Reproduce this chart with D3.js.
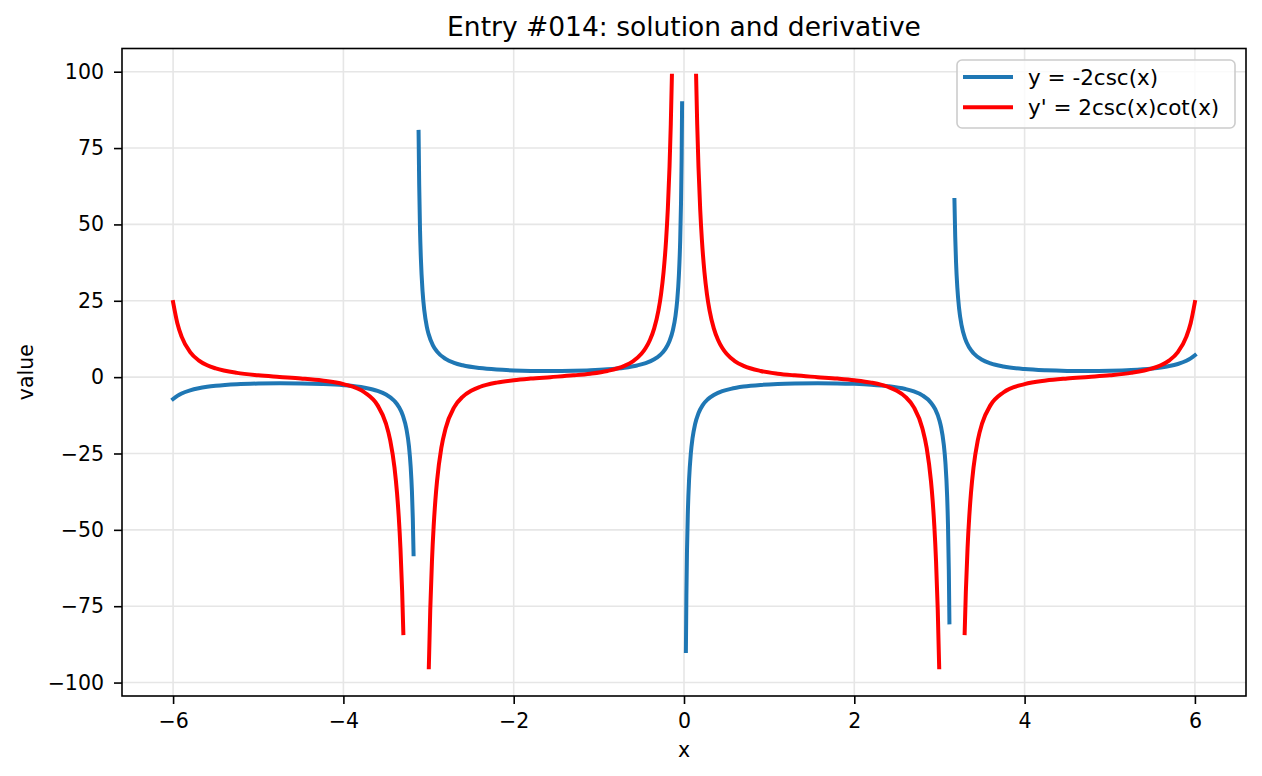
<html>
    <head>
        <meta charset="utf-8">
        <script src="https://d3js.org/d3.v7.min.js"></script>
        <style>
            body { margin: 0; background: #fff; }
            text { font-family: 'DejaVu Sans', sans-serif; fill: #000; }
        </style>
    </head>
    <body>
        <svg id="chart" width="1262" height="776"></svg>
        <script>
            // values, one array per visible piece of each curve
            const xTicks = [-6, -4, -2, 0, 2, 4, 6];
            const yTicks = [-100, -75, -50, -25, 0, 25, 50, 75, 100];

            const blue1 = [[-6, -7.16], [-5.95, -6.12], [-5.9, -5.35], [-5.8, -4.31], [-5.7, -3.63], [-5.6, -3.17], [-5.5, -2.84], [-5.25, -2.33], [-5, -2.09], [-4.75, -2.00], [-4.5, -2.05], [-4.25, -2.24], [-4, -2.64], [-3.75, -3.50], [-3.6, -4.52], [-3.5, -5.70], [-3.4, -7.83], [-3.35, -9.67], [-3.3, -12.68], [-3.26, -16.93], [-3.23, -22.65], [-3.21, -29.28], [-3.195, -37.45], [-3.185, -46.1], [-3.176, -58]];
            const blue2 = [[-3.117, 80.3], [-3.11, 63.3], [-3.1, 48.1], [-3.09, 38.8], [-3.07, 27.96], [-3.05, 21.87], [-3.02, 16.49], [-3.0, 14.17], [-2.95, 10.50], [-2.9, 8.36], [-2.8, 5.97], [-2.7, 4.68], [-2.6, 3.88], [-2.4, 2.96], [-2.2, 2.47], [-2.0, 2.20], [-1.8, 2.05], [-1.57, 2.00], [-1.3, 2.08], [-1.1, 2.24], [-0.9, 2.55], [-0.7, 3.10], [-0.55, 3.83], [-0.45, 4.60], [-0.35, 5.83], [-0.28, 7.24], [-0.22, 9.16], [-0.17, 11.82], [-0.13, 15.43], [-0.1, 20.03], [-0.08, 25.03], [-0.06, 33.35], [-0.045, 44.46], [-0.035, 57.15], [-0.028, 71.43], [-0.0223, 89.7]];
            const blue3 = [[0.0223, -89.7], [0.028, -71.43], [0.035, -57.15], [0.045, -44.46], [0.06, -33.35], [0.08, -25.03], [0.1, -20.03], [0.13, -15.43], [0.17, -11.82], [0.22, -9.16], [0.28, -7.24], [0.35, -5.83], [0.45, -4.60], [0.55, -3.83], [0.7, -3.10], [0.9, -2.55], [1.1, -2.24], [1.3, -2.08], [1.57, -2.00], [1.8, -2.05], [2.0, -2.20], [2.2, -2.47], [2.4, -2.96], [2.6, -3.88], [2.7, -4.68], [2.8, -5.97], [2.9, -8.36], [2.95, -10.50], [3.0, -14.17], [3.02, -16.49], [3.05, -21.87], [3.07, -27.96], [3.09, -38.8], [3.1, -48.1], [3.11, -63.3], [3.117, -80.3]];
            const blue4 = [[3.176, 58], [3.185, 46.1], [3.195, 37.45], [3.21, 29.28], [3.23, 22.65], [3.26, 16.93], [3.3, 12.68], [3.35, 9.67], [3.4, 7.83], [3.5, 5.70], [3.6, 4.52], [3.75, 3.50], [4, 2.64], [4.25, 2.24], [4.5, 2.05], [4.75, 2.00], [5, 2.09], [5.25, 2.33], [5.5, 2.84], [5.6, 3.17], [5.7, 3.63], [5.8, 4.31], [5.9, 5.35], [5.95, 6.12], [6, 7.16]];

            const red1 = [[-6, 24.60], [-5.95, 17.67], [-5.9, 13.27], [-5.8, 8.21], [-5.7, 5.51], [-5.6, 3.89], [-5.5, 2.85], [-5.25, 1.39], [-5, 0.62], [-4.75, 0.08], [-4.5, -0.44], [-4.25, -1.11], [-4, -2.28], [-3.75, -5.02], [-3.6, -9.16], [-3.5, -15.22], [-3.45, -20.68], [-3.4, -29.61], [-3.37, -38.0], [-3.35, -45.71], [-3.33, -56.0], [-3.31, -70.19], [-3.296, -83.8]];
            const red2 = [[-2.9967, -95.0], [-2.98, -76.26], [-2.96, -60.32], [-2.94, -48.88], [-2.92, -40.39], [-2.9, -33.93], [-2.85, -23.18], [-2.8, -16.79], [-2.7, -9.90], [-2.6, -6.45], [-2.5, -4.47], [-2.4, -3.23], [-2.2, -1.80], [-2.0, -1.01], [-1.8, -0.48], [-1.57, 0.00], [-1.3, 0.58], [-1.1, 1.14], [-0.9, 2.03], [-0.7, 3.69], [-0.6, 5.18], [-0.5, 7.64], [-0.45, 9.52], [-0.4, 12.15], [-0.35, 15.98], [-0.3, 21.88], [-0.27, 27.09], [-0.24, 34.38], [-0.21, 45.01], [-0.19, 55.06], [-0.17, 68.87], [-0.155, 82.9], [-0.1421, 98.7]];
            const red3 = [[0.1421, 98.7], [0.155, 82.9], [0.17, 68.87], [0.19, 55.06], [0.21, 45.01], [0.24, 34.38], [0.27, 27.09], [0.3, 21.88], [0.35, 15.98], [0.4, 12.15], [0.45, 9.52], [0.5, 7.64], [0.6, 5.18], [0.7, 3.69], [0.9, 2.03], [1.1, 1.14], [1.3, 0.58], [1.57, 0.00], [1.8, -0.48], [2.0, -1.01], [2.2, -1.80], [2.4, -3.23], [2.5, -4.47], [2.6, -6.45], [2.7, -9.90], [2.8, -16.79], [2.85, -23.18], [2.9, -33.93], [2.92, -40.39], [2.94, -48.88], [2.96, -60.32], [2.98, -76.26], [2.9967, -95.0]];
            const red4 = [[3.296, -83.8], [3.31, -70.19], [3.33, -56.0], [3.35, -45.71], [3.37, -38.0], [3.4, -29.61], [3.45, -20.68], [3.5, -15.22], [3.6, -9.16], [3.75, -5.02], [4, -2.28], [4.25, -1.11], [4.5, -0.44], [4.75, 0.08], [5, 0.62], [5.25, 1.39], [5.5, 2.85], [5.6, 3.89], [5.7, 5.51], [5.8, 8.21], [5.9, 13.27], [5.95, 17.67], [6, 24.60]];

            const seriesNames = ["y = -2csc(x)", "y' = 2csc(x)cot(x)"];
            const seriesColors = ["#1f77b4", "#ff0000"];

            const svg = d3.select('svg#chart');
            const pLeft = 122, pRight = 1246, pTop = 48.5, pBottom = 696;

            const x = d3.scaleLinear().domain([-6.6, 6.6]).range([pLeft, pRight]);
            const y = d3.scaleLinear().domain([-104.4, 107.6]).range([pBottom, pTop]);

            // grid
            const grid = svg.append('g');
            grid.selectAll('line.gx').data(xTicks).join('line')
                .attr('class', 'gx')
                .attr('x1', d => x(d)).attr('x2', d => x(d))
                .attr('y1', pTop).attr('y2', pBottom)
                .attr('stroke', '#e6e6e6').attr('stroke-width', 1.6);
            grid.selectAll('line.gy').data(yTicks).join('line')
                .attr('class', 'gy')
                .attr('x1', pLeft).attr('x2', pRight)
                .attr('y1', d => y(d)).attr('y2', d => y(d))
                .attr('stroke', '#e6e6e6').attr('stroke-width', 1.6);

            svg.append('clipPath').attr('id', 'clip')
               .append('rect')
               .attr('x', pLeft).attr('y', pTop)
               .attr('width', pRight - pLeft).attr('height', pBottom - pTop);

            const line = d3.line()
                           .x(d => x(d[0]))
                           .y(d => y(d[1]))
                           .curve(d3.curveMonotoneX);

            const curves = svg.append('g').attr('clip-path', 'url(#clip)');
            const pieces = [
                { data: blue1, c: 0 }, { data: blue2, c: 0 }, { data: blue3, c: 0 }, { data: blue4, c: 0 },
                { data: red1, c: 1 }, { data: red2, c: 1 }, { data: red3, c: 1 }, { data: red4, c: 1 }
            ];
            curves.selectAll('path').data(pieces).join('path')
                  .attr('d', d => line(d.data))
                  .attr('fill', 'none')
                  .attr('stroke', d => seriesColors[d.c])
                  .attr('stroke-width', 4)
                  .attr('stroke-linecap', 'square')
                  .attr('stroke-linejoin', 'round');

            // axes
            const xAxis = svg.append('g')
                             .attr('transform', `translate(0, ${pBottom})`)
                             .call(d3.axisBottom(x).tickValues(xTicks).tickSize(8).tickPadding(9).tickSizeOuter(0));
            const yAxis = svg.append('g')
                             .attr('transform', `translate(${pLeft}, 0)`)
                             .call(d3.axisLeft(y).tickValues(yTicks).tickSize(8).tickPadding(10).tickSizeOuter(0));
            [xAxis, yAxis].forEach(a => {
                a.select('.domain').remove();
                a.selectAll('.tick line').attr('stroke', '#000').attr('stroke-width', 1.6);
                a.selectAll('.tick text').attr('font-size', '20.5px').attr('font-family', 'DejaVu Sans').attr('fill', '#000');
            });

            svg.append('rect')
               .attr('x', pLeft).attr('y', pTop)
               .attr('width', pRight - pLeft).attr('height', pBottom - pTop)
               .attr('fill', 'none').attr('stroke', '#000').attr('stroke-width', 1.6);

            // labels
            svg.append('text')
               .attr('x', (pLeft + pRight) / 2).attr('y', 36)
               .attr('text-anchor', 'middle').attr('font-size', '26.5px')
               .text('Entry #014: solution and derivative');
            svg.append('text')
               .attr('x', (pLeft + pRight) / 2).attr('y', 757)
               .attr('text-anchor', 'middle').attr('font-size', '20.5px')
               .text('x');
            svg.append('text')
               .attr('transform', `translate(33, ${(pTop + pBottom) / 2}) rotate(-90)`)
               .attr('text-anchor', 'middle').attr('font-size', '20.5px')
               .text('value');

            // legend
            const legend = svg.append('g');
            legend.append('rect')
                  .attr('x', 957).attr('y', 60).attr('width', 278).attr('height', 68)
                  .attr('rx', 5)
                  .attr('fill', '#fff').attr('fill-opacity', 0.8)
                  .attr('stroke', '#cccccc').attr('stroke-width', 1.6);
            const rows = legend.selectAll('g.row').data(seriesNames).join('g')
                               .attr('class', 'row')
                               .attr('transform', (d, i) => `translate(0, ${77 + i * 30.3})`);
            rows.append('line')
                .attr('x1', 965).attr('x2', 1011)
                .attr('stroke', (d, i) => seriesColors[i])
                .attr('stroke-width', 4)
                .attr('stroke-linecap', 'square');
            rows.append('text')
                .attr('x', 1028).attr('dy', '0.36em')
                .attr('font-size', '21.5px')
                .text(d => d);
        </script>
    </body>
</html>
